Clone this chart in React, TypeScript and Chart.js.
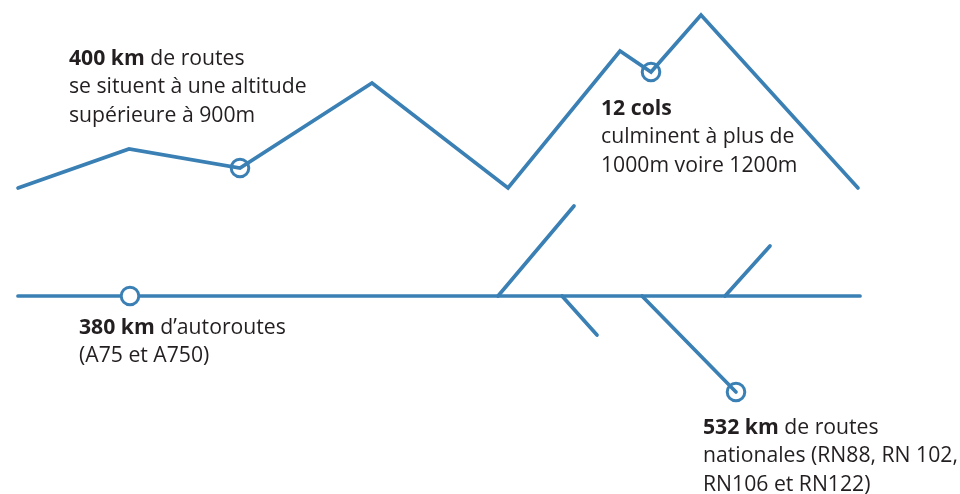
import React, { useEffect, useRef } from "react";
import { Chart, registerables } from "chart.js";

Chart.register(...registerables);

// Units: x = distance along the drawing (0–96), y = relative altitude (0–49.4)
const mountainX = [1.8, 12.9, 24.0, 37.2, 50.8, 62.0, 65.1, 70.1, 85.8];
const mountainY = [30.6, 34.5, 32.6, 41.1, 30.6, 44.3, 42.2, 47.9, 30.6];

const highwayX = [1.8, 86.0];
const highwayY = [19.8, 19.8];

const branch1X = [49.8, 57.4];
const branch1Y = [19.8, 28.8];
const branch2X = [56.2, 59.7];
const branch2Y = [19.8, 15.9];
const branch3X = [64.2, 73.6];
const branch3Y = [19.8, 10.2];
const branch4X = [72.5, 77.0];
const branch4Y = [19.8, 24.8];

const markerX = [24.0, 65.1, 13.0, 73.6];
const markerY = [32.6, 42.2, 19.8, 10.2];
const markerFill = ["rgba(0,0,0,0)", "rgba(0,0,0,0)", "#ffffff", "rgba(0,0,0,0)"];

const labelX = [6.9, 60.1, 7.9, 70.3];
const labelY = [42.95, 37.95, 16.05, 6.05];
const labelBold = ["400 km", "12 cols", "380 km", "532 km"];
const labelRest = [
  ["de routes", "se situent à une altitude", "supérieure à 900m"],
  ["", "culminent à plus de", "1000m voire 1200m"],
  ["d’autoroutes", "(A75 et A750)"],
  ["de routes", "nationales (RN88, RN 102,", "RN106 et RN122)"],
];

const BLUE = "#3a80b4";
const TEXT = "#231f20";
const FONT = '"Open Sans"';
const SIZE = 21.2;
const LINE_H = 2.87; // in y units

const pts = (xs: number[], ys: number[]) => xs.map((x, i) => ({ x, y: ys[i] }));

const lineDs = (xs: number[], ys: number[]) => ({
  data: pts(xs, ys),
  showLine: true,
  borderColor: BLUE,
  borderWidth: 3.7,
  pointRadius: 0,
  tension: 0,
  borderCapStyle: "round" as const,
  borderJoinStyle: "miter" as const,
  fill: false,
});

const textPlugin = {
  id: "textLabels",
  afterDatasetsDraw(chart: any) {
    const { ctx, scales } = chart;
    ctx.save();
    ctx.fillStyle = TEXT;
    ctx.textBaseline = "alphabetic";
    ctx.textAlign = "left";
    labelBold.forEach((bold, i) => {
      const x = scales.x.getPixelForValue(labelX[i]);
      const lines = labelRest[i];
      lines.forEach((txt, j) => {
        const y = scales.y.getPixelForValue(labelY[i] - j * LINE_H);
        let cx = x;
        if (j === 0) {
          ctx.font = `bold ${SIZE}px ${FONT}`;
          ctx.fillText(bold, cx, y);
          cx += ctx.measureText(bold).width;
          ctx.font = `${SIZE}px ${FONT}`;
          cx += ctx.measureText(" ").width;
        }
        ctx.font = `${SIZE}px ${FONT}`;
        if (txt) ctx.fillText(txt, cx, y);
      });
    });
    ctx.restore();
  },
};

export default function App() {
  const ref = useRef<HTMLCanvasElement | null>(null);
  useEffect(() => {
    if (!ref.current) return;
    const chart = new Chart(ref.current, {
      type: "scatter",
      data: {
        datasets: [
          {
            data: pts(markerX, markerY),
            showLine: false,
            pointRadius: 8.8,
            pointBorderWidth: 3,
            pointBorderColor: BLUE,
            pointBackgroundColor: markerFill,
          } as any,
          lineDs(mountainX, mountainY),
          lineDs(highwayX, highwayY),
          lineDs(branch1X, branch1Y),
          lineDs(branch2X, branch2Y),
          lineDs(branch3X, branch3Y),
          lineDs(branch4X, branch4Y),
        ],
      },
      options: {
        animation: false,
        responsive: false,
        events: [],
        layout: { padding: 0, autoPadding: false },
        plugins: { legend: { display: false }, tooltip: { enabled: false } },
        scales: {
          x: { type: "linear", min: 0, max: 96, display: false },
          y: { type: "linear", min: 0, max: 49.4, display: false },
        },
      },
      plugins: [textPlugin],
    });
    return () => chart.destroy();
  }, []);
  return (
    <div style={{ position: "absolute", left: 0, top: 0, width: 960, height: 494, background: "#ffffff" }}>
      <canvas ref={ref} width={960} height={494} />
    </div>
  );
}
